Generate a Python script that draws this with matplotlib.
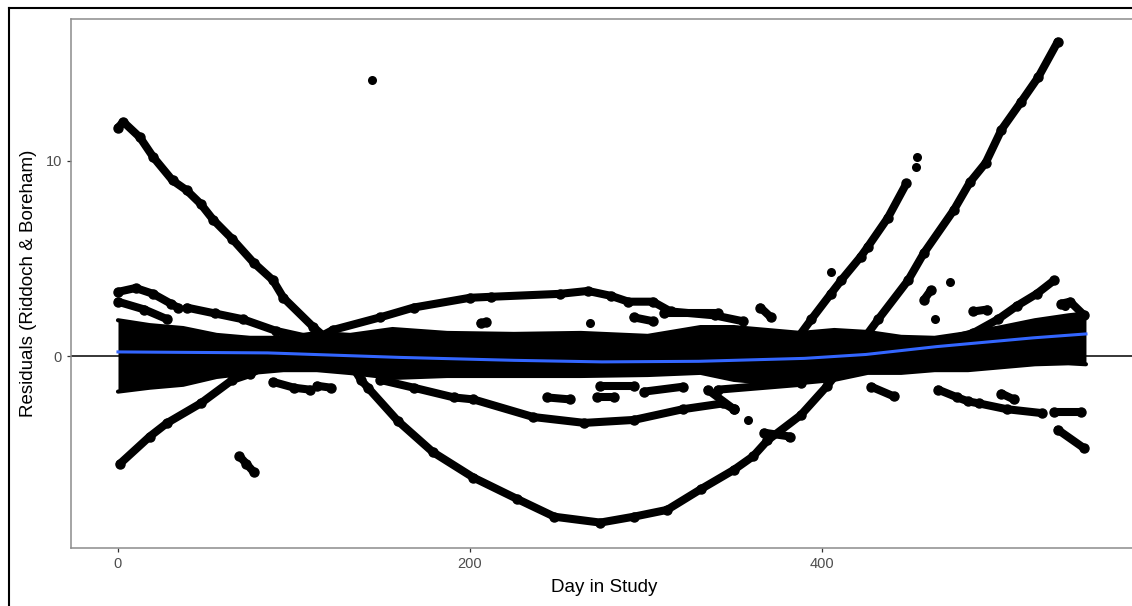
"""
plot.py - residuals vs day in study (Riddoch & Boreham), ggplot-like look.
"""

import matplotlib
matplotlib.use("Agg")
import matplotlib.pyplot as plt
from matplotlib.lines import Line2D

plt.rcParams["font.family"] = ["Liberation Sans", "DejaVu Sans"]

# ── Data ─────────────────────────────────────────────────────────────────────
# dense cloud around zero: upper / lower envelope
band_day = [0, 18, 37, 56, 75, 94, 113, 132, 156, 187, 225, 263, 301, 331,
            350, 369, 388, 407, 426, 445, 464, 483, 502, 521, 540, 550]
band_hi = [1.85, 1.6, 1.45, 1.1, 0.95, 0.95, 1.2, 1.1, 1.4, 1.2, 1.15, 1.2,
           1.05, 1.5, 1.5, 1.35, 1.2, 1.35, 1.25, 1.0, 0.95, 1.2, 1.5, 1.85,
           2.1, 2.2]
band_lo = [-1.8, -1.6, -1.45, -1.05, -0.85, -0.7, -0.7, -0.85, -1.1, -1.0,
           -1.0, -1.0, -0.95, -0.84, -1.2, -1.36, -1.36, -1.2, -0.84, -0.84,
           -0.7, -0.7, -0.55, -0.4, -0.35, -0.4]

# long trajectory: falls from 12, bottoms near -8.5, climbs to 16
traj_a_day = [0, 3, 12.5, 20, 31, 39, 47, 54, 65, 77, 88, 94, 111, 129, 138,
              142, 159, 179, 202, 227, 248, 274, 293, 312, 331, 350, 361, 369,
              388, 403, 418, 432, 449, 458, 475, 484, 493, 502, 513, 523, 534]
traj_a_res = [11.7, 12.0, 11.2, 10.2, 9.0, 8.5, 7.8, 7.0, 6.0, 4.8, 3.9, 3.0,
              1.5, 0.1, -1.2, -1.6, -3.3, -4.9, -6.2, -7.3, -8.2, -8.5, -8.2,
              -7.85, -6.8, -5.8, -5.1, -4.3, -3.0, -1.5, 0.2, 1.9, 3.9, 5.3,
              7.5, 8.9, 9.9, 11.6, 13.0, 14.3, 16.1]

# rises from -5.5 to an arc around +3
traj_b_day = [1, 18, 28, 47, 65, 75, 100, 122, 149, 168, 200, 212, 251, 267,
              280, 290, 304, 314, 339, 355]
traj_b_res = [-5.5, -4.1, -3.4, -2.4, -1.2, -0.9, 0.3, 1.35, 2.0, 2.5, 3.0,
              3.05, 3.2, 3.35, 3.1, 2.8, 2.8, 2.3, 2.1, 1.8]

# shallow lower arc in the middle
traj_c_day = [149, 168, 191, 202, 236, 265, 293, 321, 344, 350]
traj_c_res = [-1.2, -1.6, -2.1, -2.2, -3.1, -3.4, -3.25, -2.7, -2.4, -2.7]

# steep rise ending near 10
traj_e_day = [385, 394, 405, 411, 422, 426, 437.5, 448]
traj_e_res = [0.8, 1.9, 3.2, 3.9, 5.1, 5.6, 7.1, 8.85]

# gentle rise at the right to about 4
traj_g_day = [470, 486, 500, 511, 522, 532]
traj_g_res = [0.8, 1.2, 1.9, 2.6, 3.2, 3.9]

# short streaks of consecutive days
streak_days = [
    [0, 10, 20, 30, 34], [0, 15, 28], [39, 55, 71, 90, 110],
    [69, 73, 77], [88, 100, 109], [113, 121],
    [206, 209], [293, 304], [310, 341], [365, 371], [458, 462],
    [244, 257], [272, 282], [274, 293], [299, 321], [341, 388],
    [335, 350], [367, 382], [428, 441], [466, 477, 483, 489, 505, 525],
    [502, 509], [532, 547], [534, 549], [486, 494], [536, 541, 549],
]
streak_res = [
    [3.3, 3.5, 3.2, 2.7, 2.5], [2.8, 2.4, 1.9], [2.5, 2.2, 1.9, 1.3, 0.9],
    [-5.1, -5.5, -5.9], [-1.3, -1.6, -1.7], [-1.5, -1.6],
    [1.7, 1.75], [2.0, 1.8], [2.2, 2.2], [2.5, 2.0], [2.9, 3.4],
    [-2.1, -2.2], [-2.1, -2.1], [-1.5, -1.5], [-1.8, -1.55], [-1.7, -1.35],
    [-1.7, -2.7], [-3.9, -4.1], [-1.55, -2.05], [-1.7, -2.1, -2.3, -2.4, -2.7, -2.9],
    [-1.9, -2.2], [-2.85, -2.85], [-3.75, -4.7], [2.3, 2.4], [2.7, 2.8, 2.1],
]

# single scattered points
lone_day = [144.5, 453.5, 454, 405, 473, 464, 538, 268, 304, 358, 381]
lone_res = [14.15, 9.7, 10.2, 4.3, 3.8, 1.9, 2.6, 1.7, 2.8, -3.25, -4.1]

# loess smooth
smooth_day = [0, 85, 160, 225, 275, 330, 390, 425, 465, 520, 550]
smooth_res = [0.23, 0.18, -0.05, -0.2, -0.28, -0.25, -0.1, 0.1, 0.5, 0.95, 1.15]

# ── Aesthetics ────────────────────────────────────────────────────────────────
W, H = 1132, 606
DOT = 6.5          # point diameter in pt
PANEL_LINE = "#8c8c8c"
SMOOTH = "#3366FF"


def draw_track(ax, days, res):
    ax.plot(days, res, "-o", color="black", lw=DOT - 0.7, ms=DOT,
            solid_capstyle="round", solid_joinstyle="round", zorder=3)


fig = plt.figure(figsize=(W / 100, H / 100), dpi=100)
ax = fig.add_axes([71 / W, 58 / H, 1066 / W, 529 / H])

ax.axhline(0, color="black", lw=1.1, zorder=1)

ax.fill_between(band_day, band_lo, band_hi, color="black", lw=0, zorder=3)
ax.plot(band_day, band_hi, color="black", lw=3, solid_capstyle="round", zorder=3)
ax.plot(band_day, band_lo, color="black", lw=3, solid_capstyle="round", zorder=3)

for d, r in [(traj_a_day, traj_a_res), (traj_b_day, traj_b_res),
             (traj_c_day, traj_c_res), (traj_e_day, traj_e_res),
             (traj_g_day, traj_g_res)]:
    draw_track(ax, d, r)
for d, r in zip(streak_days, streak_res):
    draw_track(ax, d, r)
ax.scatter(lone_day, lone_res, s=DOT ** 2, color="black", lw=0, zorder=3)

ax.plot(smooth_day, smooth_res, color=SMOOTH, lw=2.2, zorder=4)

# ── Axes formatting ──────────────────────────────────────────────────────────
ax.set_xlim(-26.7, 579)
ax.set_ylim(-9.8, 17.26)
ax.set_xticks([0, 200, 400])
ax.set_yticks([0, 10])
ax.tick_params(length=3, width=0.9, color="#333333", labelcolor="#4d4d4d",
               labelsize=10.5, pad=3.5)
for side in ["left", "bottom", "top"]:
    ax.spines[side].set_color(PANEL_LINE)
    ax.spines[side].set_linewidth(1.1)
ax.spines["right"].set_visible(False)

ax.set_xlabel("Day in Study", fontsize=13.5, labelpad=6)
ax.set_ylabel("Residuals (Riddoch & Boreham)", fontsize=13.5, labelpad=6)

# outer frame of the original figure (cropped at right and bottom)
fx, fy = 8.5 / W, 1 - 7.5 / H
fig.add_artist(Line2D([fx, fx], [0, fy], color="black", lw=1.5))
fig.add_artist(Line2D([fx, 1], [fy, fy], color="black", lw=1.5))

plt.savefig("out.png", dpi=100)
plt.close(fig)
